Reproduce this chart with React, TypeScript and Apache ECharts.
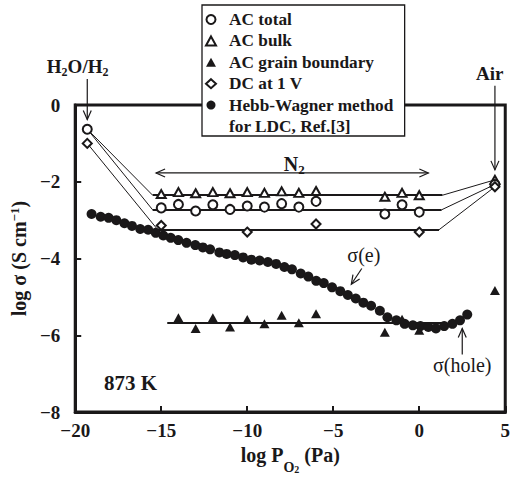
import React, { useEffect, useRef } from 'react';
import * as echarts from 'echarts';

const INK = '#1a1819';
const SERIF = '"Liberation Serif", "Times New Roman", serif';

// log P(O2) steps of the AC / DC measurements in N2
const n2X = [-15, -14, -13, -12, -11, -10, -9, -8, -7, -6, -2, -1, 0];
const acTotalN2 = [-2.68, -2.59, -2.76, -2.6, -2.72, -2.63, -2.66, -2.57, -2.66, -2.51, -2.84, -2.6, -2.79];
const acBulkN2 = [-2.32, -2.27, -2.3, -2.27, -2.3, -2.27, -2.29, -2.25, -2.29, -2.24, -2.39, -2.29, -2.35];
const gbX = [-14, -13, -12, -11, -10, -9, -8, -7, -6, -2, -1, 0];
const acGbN2 = [-5.54, -5.82, -5.54, -5.78, -5.59, -5.7, -5.48, -5.67, -5.44, -5.92, -5.58, -5.87];
const dcX = [-15, -10, -6, 0];
const dcN2 = [-3.14, -3.31, -3.1, -3.31];

// end atmospheres: wet hydrogen (H2O/H2) and air
const h2oX = -19.3;
const airX = 4.4;
const acTotalEnds = [-0.63, -2.07];
const acBulkAir = -1.95;
const acGbAir = -4.83;
const dcEnds = [-1.0, -2.13];

// Hebb-Wagner polarisation data for LDC
const hwX = [-19.05, -18.52, -18.06, -17.61, -17.14, -16.7, -16.22, -15.76, -15.32, -14.88, -14.45, -14.01,
  -13.53, -13.02, -12.58, -12.16, -11.62, -11.2, -10.72, -10.24, -9.76, -9.28, -8.8, -8.32, -7.84, -7.4,
  -6.89, -6.45, -5.99, -5.55, -5.07, -4.59, -4.15, -3.69, -3.25, -2.8, -2.29, -1.85, -1.33, -0.85, -0.37,
  0.07, 0.53, 0.97, 1.45, 1.93, 2.37, 2.79];
const hwY = [-2.84, -2.91, -2.94, -3.0, -3.08, -3.15, -3.23, -3.25, -3.33, -3.4, -3.46, -3.52, -3.59, -3.65,
  -3.71, -3.76, -3.84, -3.88, -3.91, -3.97, -4.03, -4.05, -4.09, -4.14, -4.22, -4.28, -4.39, -4.47, -4.58,
  -4.64, -4.75, -4.85, -4.95, -5.04, -5.15, -5.23, -5.36, -5.53, -5.61, -5.7, -5.74, -5.76, -5.78, -5.82,
  -5.76, -5.7, -5.61, -5.46];

// flat N2 levels: bulk, total, DC, grain boundary
const fitY = [-2.35, -2.73, -3.25, -5.67];
const fitFrom = [-15.5, -15.5, -15.2, -14.65];
const fitTo = [1.35, 1.3, 1.15, 1.35];

// annotation arrows: x1, y1, x2 (tip), y2 (tip), double-headed
const arrows = [
  [-19.3, 0.68, -19.3, -0.38, 0],
  [4.4, 0.5, 4.4, -1.69, 0],
  [-15.3, -1.77, 0.53, -1.77, 1],
  [-3.34, -4.26, -3.95, -4.67, 0],
  [2.5, -6.5, 2.5, -5.82, 0],
];

// annotation texts
const noteX = [-19.86, 4.1, -7.27, -3.22, 2.5, -16.78];
const noteY = [0.99, 0.81, -1.54, -3.92, -6.78, -7.25];
const noteText = ['H{s|2}O/H{s|2}', 'Air', 'N{s|2}', 'σ(e)', 'σ(hole)', '873 K'];
const noteBold = [1, 1, 1, 0, 0, 1];
const noteSize = [19, 19, 20, 20, 20, 21];

const HW_NAME = 'Hebb-Wagner method';
const HW_NAME_2 = 'for LDC, Ref.[3]';

const minus = (v: number) => (v < 0 ? '\u2212' + Math.abs(v) : String(v));

function buildOption() {
  const pts = (xs: number[], ys: number[]) => xs.map((x, i) => [x, ys[i]]);

  const fitSegments = fitY.map((y, i) => ({ coords: [[fitFrom[i], y], [fitTo[i], y]] }));
  const connectors = [
    { coords: [[h2oX, acTotalEnds[0]], [fitFrom[0], fitY[0]]] },
    { coords: [[fitTo[0], fitY[0]], [airX, acBulkAir]] },
    { coords: [[h2oX, acTotalEnds[0]], [fitFrom[1], fitY[1]]] },
    { coords: [[fitTo[1], fitY[1]], [airX, acTotalEnds[1]]] },
    { coords: [[h2oX, dcEnds[0]], [fitFrom[2], fitY[2]]] },
    { coords: [[fitTo[2], fitY[2]], [airX, dcEnds[1]]] },
  ];

  // subscript token: top padding pushes the glyphs down inside a bottom-aligned box
  const subRich = (size: number, bold: boolean) => ({
    s: {
      fontFamily: SERIF, fontWeight: bold ? 'bold' : 'normal', fontSize: Math.round(size * 0.65),
      fill: INK, padding: [11, 0, 0, 0], verticalAlign: 'bottom',
    },
  });

  const axisBase = {
    type: 'value' as const,
    axisLine: { onZero: false, lineStyle: { color: INK, width: 3 } },
    axisTick: { inside: true, length: 6, lineStyle: { color: INK, width: 2 } },
    splitLine: { show: false },
    axisLabel: {
      color: INK, fontFamily: SERIF, fontWeight: 'bold' as const, fontSize: 19,
      formatter: (v: number) => minus(v),
    },
  };

  const solid = { opacity: 1 };

  return {
    animation: false,
    backgroundColor: '#fff',
    grid: { left: 73, top: 105, width: 435, height: 316, show: true, borderColor: INK, borderWidth: 3 },
    xAxis: {
      ...axisBase,
      min: -20, max: 5, interval: 5,
      axisLabel: { ...axisBase.axisLabel, margin: 9 },
      name: '{m|log P}{o|O}{t|2}{m| (Pa)}',
      nameLocation: 'middle',
      nameGap: 30,
      nameTextStyle: {
        rich: {
          m: { fontFamily: SERIF, fontWeight: 'bold', fontSize: 20, color: INK, verticalAlign: 'top' },
          o: { fontFamily: SERIF, fontWeight: 'bold', fontSize: 14, color: INK, padding: [8, 0, 0, 0], verticalAlign: 'bottom' },
          t: { fontFamily: SERIF, fontWeight: 'bold', fontSize: 10, color: INK, padding: [19, 0, 0, 0], verticalAlign: 'bottom' },
        },
      },
    },
    yAxis: {
      ...axisBase,
      min: -8, max: 0, interval: 2,
      axisLabel: { ...axisBase.axisLabel, margin: 15 },
      name: '{m|log σ (S cm}{u|\u22121}{m|)}',
      nameLocation: 'middle',
      nameGap: 41,
      nameTextStyle: {
        rich: {
          m: { fontFamily: SERIF, fontWeight: 'bold', fontSize: 20, color: INK },
          u: { fontFamily: SERIF, fontWeight: 'bold', fontSize: 13, color: INK, padding: [0, 0, 9, 0], verticalAlign: 'top' },
        },
      },
    },
    legend: {
      orient: 'vertical',
      left: 202,
      top: 5,
      padding: [6, 11, 1, 3],
      itemWidth: 10,
      itemHeight: 9,
      itemGap: 4.4,
      borderColor: INK,
      borderWidth: 1.3,
      backgroundColor: '#fff',
      selectedMode: false,
      z: 10,
      data: [
        { name: 'AC total' },
        { name: 'AC bulk' },
        { name: 'AC grain boundary' },
        { name: 'DC at 1 V' },
        { name: HW_NAME },
        { name: HW_NAME_2, icon: 'none' },
      ],
      formatter: (name: string) => `{t|${name}}`,
      textStyle: {
        rich: {
          t: { fontFamily: SERIF, fontWeight: 'bold', fontSize: 17.3, color: INK, lineHeight: 18, padding: [0, 0, 0, 8] },
        },
      },
    },
    series: [
      {
        type: 'lines', coordinateSystem: 'cartesian2d', silent: true, z: 2,
        lineStyle: { color: INK, width: 2, opacity: 1 },
        data: fitSegments,
      },
      {
        type: 'lines', coordinateSystem: 'cartesian2d', silent: true, z: 2,
        lineStyle: { color: INK, width: 1, opacity: 1 },
        data: connectors,
      },
      {
        name: HW_NAME, type: 'scatter', symbol: 'circle', symbolSize: 10, z: 3,
        itemStyle: { color: INK, ...solid },
        data: pts(hwX, hwY),
      },
      {
        name: 'AC bulk', type: 'scatter', symbol: 'emptyTriangle', symbolSize: [9, 8], z: 4,
        itemStyle: { color: INK, borderWidth: 1.7, ...solid },
        data: [...pts(n2X, acBulkN2), [airX, acBulkAir]],
      },
      {
        name: 'AC total', type: 'scatter', symbol: 'emptyCircle', symbolSize: 9, z: 4,
        itemStyle: { color: INK, borderWidth: 1.7, ...solid },
        data: [[h2oX, acTotalEnds[0]], ...pts(n2X, acTotalN2), [airX, acTotalEnds[1]]],
      },
      {
        name: 'AC grain boundary', type: 'scatter', symbol: 'triangle', symbolSize: [10, 9], z: 4,
        itemStyle: { color: INK, ...solid },
        data: [...pts(gbX, acGbN2), [airX, acGbAir]],
      },
      {
        name: 'DC at 1 V', type: 'scatter', symbol: 'emptyDiamond', symbolSize: 9, z: 4,
        itemStyle: { color: INK, borderWidth: 1.7, ...solid },
        data: [[h2oX, dcEnds[0]], ...pts(dcX, dcN2), [airX, dcEnds[1]]],
      },
      { name: HW_NAME_2, type: 'scatter', data: [] },
      {
        type: 'custom', silent: true, z: 5, clip: false,
        data: arrows,
        renderItem: (_p: any, api: any) => {
          const a = api.coord([api.value(0), api.value(1)]);
          const b = api.coord([api.value(2), api.value(3)]);
          const head = (tip: number[], from: number[]) => {
            const dx = tip[0] - from[0];
            const dy = tip[1] - from[1];
            const len = Math.hypot(dx, dy) || 1;
            const ux = dx / len, uy = dy / len;
            const L = 9, W = 4;
            return {
              type: 'polyline',
              shape: { points: [[tip[0] - ux * L - uy * W, tip[1] - uy * L + ux * W], tip, [tip[0] - ux * L + uy * W, tip[1] - uy * L - ux * W]] },
              style: { stroke: INK, fill: 'none', lineWidth: 1.2 },
            };
          };
          const children: any[] = [
            { type: 'line', shape: { x1: a[0], y1: a[1], x2: b[0], y2: b[1] }, style: { stroke: INK, lineWidth: 1.2 } },
            head(b, a),
          ];
          if (api.value(4)) children.push(head(a, b));
          return { type: 'group', children };
        },
      },
      {
        type: 'custom', silent: true, z: 6, clip: false,
        data: noteX.map((x, i) => [x, noteY[i], i]),
        renderItem: (_p: any, api: any) => {
          const i = api.value(2);
          const p = api.coord([api.value(0), api.value(1)]);
          const bold = !!noteBold[i];
          const size = noteSize[i];
          return {
            type: 'text', x: p[0], y: p[1],
            style: {
              text: noteText[i], fill: INK, fontFamily: SERIF, fontWeight: bold ? 'bold' : 'normal', fontSize: size,
              align: 'center', verticalAlign: 'middle', rich: subRich(size, bold),
            },
          };
        },
      },
    ],
  };
}

export default function App() {
  const ref = useRef<HTMLDivElement>(null);
  useEffect(() => {
    document.body.style.margin = '0';
    if (!ref.current) return;
    const chart = echarts.init(ref.current, undefined, { renderer: 'svg' });
    chart.setOption(buildOption() as any);
    return () => chart.dispose();
  }, []);
  return <div ref={ref} style={{ width: 513, height: 479 }} />;
}
